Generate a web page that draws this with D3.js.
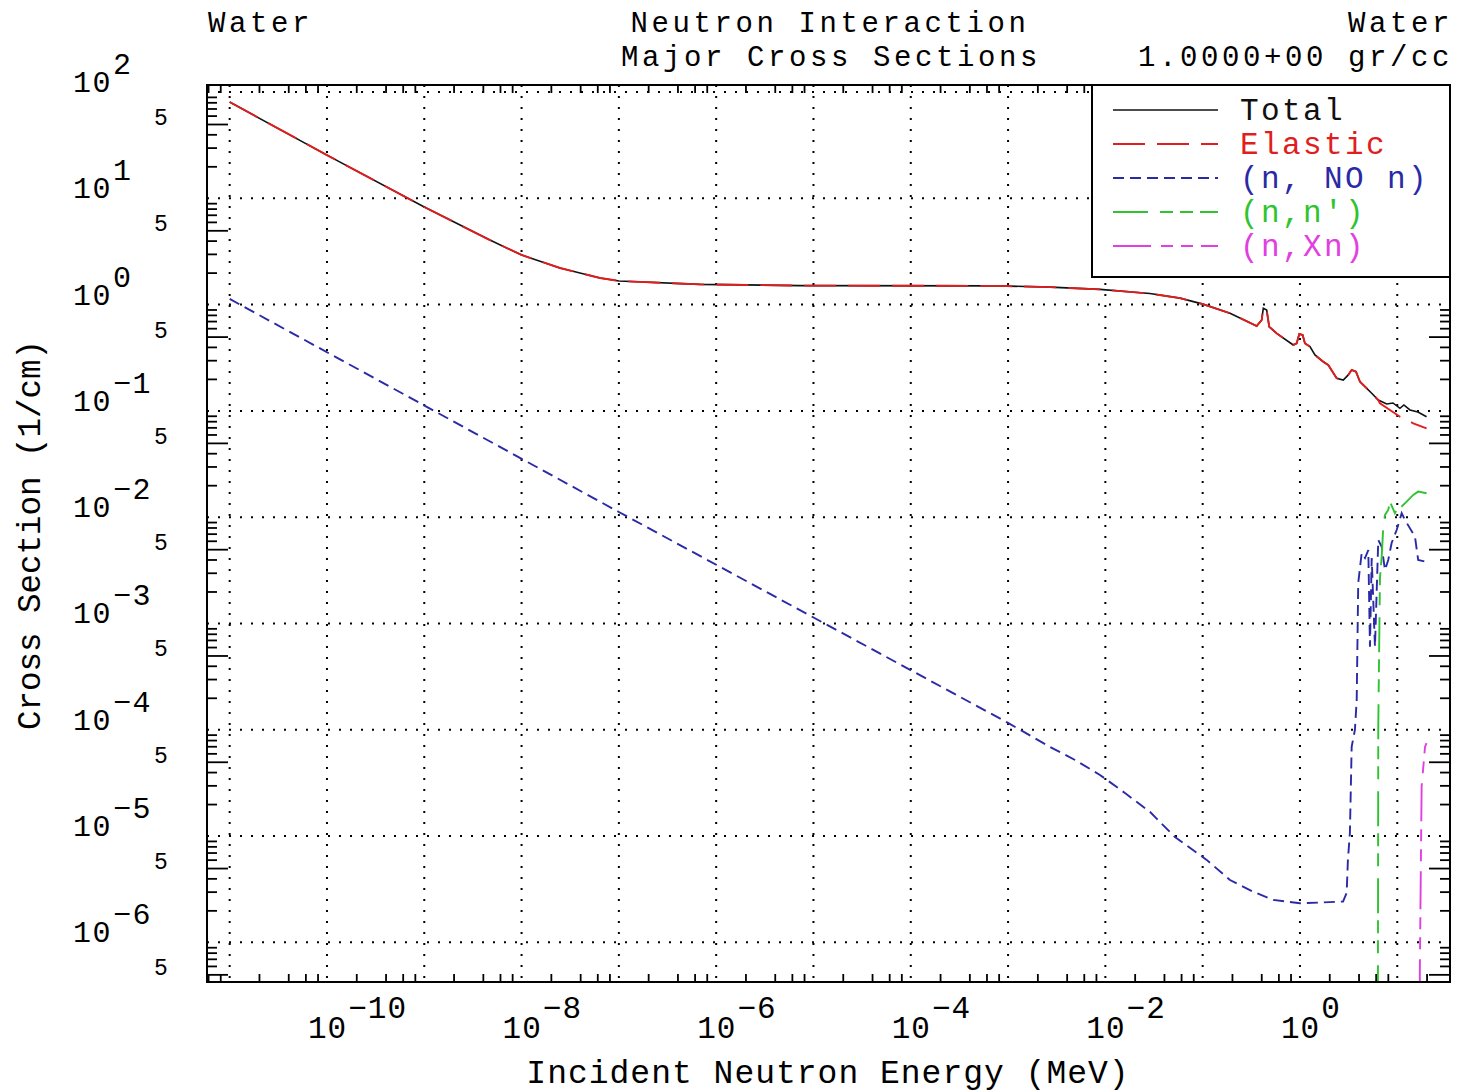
<!DOCTYPE html>
<html>
<head>
<meta charset="utf-8">
<script src="https://cdn.jsdelivr.net/npm/d3@7"></script>
<style>
body { margin: 0; background: #fff; }
text { font-family: "Liberation Mono", "DejaVu Sans Mono", monospace; fill: #000; }
</style>
</head>
<body>
<div id="chart"></div>
<script>
// values, energy in MeV, cross section in 1/cm
// total and elastic are the same curve up to the (n,n') threshold
const sharedE = [1e-11, 1e-10, 1e-9, 4.73e-9, 1e-8, 2.48e-8, 6.4e-8, 1e-7, 6.8e-7, 7.3e-6, 8.26e-4, 2.7e-3, 8.8e-3,
    0.0287, 0.0585, 0.1007, 0.191, 0.359, 0.404, 0.420, 0.455, 0.483, 0.576, 0.853, 0.925, 0.984, 1.066, 1.125,
    1.267, 1.426, 1.735, 1.954, 2.384, 2.786, 3.136, 3.40, 3.765, 4.14, 4.66, 5.46, 6.38];
const sharedXS = [80.5, 25.5, 8.28, 4.05, 2.93, 2.21, 1.78, 1.67, 1.55, 1.51, 1.50, 1.46, 1.39,
    1.27, 1.15, 1.01, 0.828, 0.629, 0.716, 0.923, 0.889, 0.619, 0.537, 0.417, 0.432, 0.529, 0.518, 0.432,
    0.402, 0.336, 0.290, 0.270, 0.203, 0.195, 0.218, 0.243, 0.234, 0.188, 0.169, 0.1465, 0.1267];

const totalTailE = [7.78, 9.03, 10.66, 11.7, 13.5, 16.3, 20.0];
const totalTailXS = [0.116, 0.1187, 0.1057, 0.1137, 0.102, 0.0977, 0.0882];

const elasticTailE = [6.64, 8.41, 10.66, 14.6, 20.0];
const elasticTailXS = [0.118, 0.102, 0.0882, 0.0764, 0.0686];

const captureE = [1e-11, 1e-7, 1e-3, 2.7e-3, 4.87e-3, 8.8e-3, 0.0159, 0.0287, 0.0519, 0.110, 0.191, 0.329, 0.532, 1.0, 2.77, 3.02, 3.11,
    3.26, 3.40, 3.67, 3.83, 3.97, 4.31, 4.66, 5.04, 5.24, 5.46, 5.90, 6.38, 6.92, 7.48, 8.08, 8.75, 9.86, 11.1,
    12.0, 15.2, 16.4, 20.0];
const captureXS = [1.13, 0.01119, 1.16e-4, 6.9e-5, 5.2e-5, 3.76e-5, 2.54e-5, 1.69e-5, 9.8e-6, 5.97e-6, 3.86e-6, 3.0e-6, 2.51e-6, 2.33e-6, 2.42e-6, 2.92e-6, 5.97e-6,
    1.07e-5, 6.93e-5, 9.95e-5, 1.91e-4, 2.40e-3, 4.61e-3, 4.13e-3, 4.91e-3, 6.05e-4, 4.13e-3, 6.05e-4, 6.1e-3, 5.27e-3, 3.18e-3, 3.96e-3, 5.72e-3, 7.58e-3, 0.0109,
    9.41e-3, 6.56e-3, 3.96e-3, 3.8e-3];

const inelE = [6.27, 6.38, 6.64, 6.92, 7.18, 7.48, 8.08, 8.41, 9.47, 9.86, 11.1, 12.5, 14.6, 16.4, 20.0];
const inelXS = [1e-9, 1.06e-4, 2.68e-3, 4.25e-3, 8.14e-3, 0.0105, 0.0117, 0.0140, 0.0109, 0.0117, 0.0126, 0.0140, 0.0162, 0.0174, 0.0168];

const nxnE = [16.3, 17.1, 17.8, 19.3, 20.0];
const nxnXS = [1e-9, 6.84e-7, 2.92e-5, 6.93e-5, 7.5e-5];

const legendLabels = ['Total', 'Elastic', '(n, NO n)', "(n,n')", '(n,Xn)'];
const xLabelExps = [-10, -8, -6, -4, -2, 0];
const yLabelExps = [2, 1, 0, -1, -2, -3, -4, -5, -6];

const series = [
    {E: sharedE.concat(totalTailE), XS: sharedXS.concat(totalTailXS), color: '#111111', dash: null, width: 1.6},
    {E: sharedE.concat(elasticTailE), XS: sharedXS.concat(elasticTailXS), color: '#e01e1e', dash: '32,12', width: 1.9},
    {E: captureE, XS: captureXS, color: '#2a2aa6', dash: '11,6', width: 1.9},
    {E: inelE, XS: inelXS, color: '#2fc42f', dash: '35,12,13,7,13,7', width: 1.9},
    {E: nxnE, XS: nxnXS, color: '#e040e0', dash: '38,10,12,8,12,8', width: 1.9}
];

const width = 1467, height = 1092;
const plotLeft = 207, plotRight = 1450, plotTop = 85, plotBottom = 982;

const svg = d3.select('#chart').append('svg')
    .attr('width', width).attr('height', height);

const x = d3.scaleLog().domain([Math.pow(10, -11.233), Math.pow(10, 1.542)]).range([plotLeft, plotRight]);
const y = d3.scaleLog().domain([Math.pow(10, -6.373), Math.pow(10, 2.066)]).range([plotBottom, plotTop]);

// tick values
let xDecades = d3.range(-11, 2).map(k => Math.pow(10, k));
let yDecades = d3.range(-6, 3).map(k => Math.pow(10, k));
let xMinor = [], yMinor = [], yFive = [];
for (let k = -12; k <= 1; k++) {
    [2, 4, 6, 8].forEach(m => {
        let v = m * Math.pow(10, k);
        if (v > x.domain()[0] && v < x.domain()[1]) xMinor.push(v);
    });
}
for (let k = -7; k <= 2; k++) {
    [2, 3, 4, 5, 6, 7, 8, 9].forEach(m => {
        let v = m * Math.pow(10, k);
        if (v > y.domain()[0] && v < y.domain()[1]) {
            if (m === 5) yFive.push(v); else yMinor.push(v);
        }
    });
}

// dotted grid
svg.append('g').selectAll('line').data(xDecades).enter().append('line')
    .attr('x1', d => x(d)).attr('x2', d => x(d))
    .attr('y1', plotTop).attr('y2', plotBottom)
    .attr('stroke', '#000').attr('stroke-width', 2).attr('stroke-dasharray', '2,9');
svg.append('g').selectAll('line').data(yDecades).enter().append('line')
    .attr('x1', plotLeft).attr('x2', plotRight)
    .attr('y1', d => y(d)).attr('y2', d => y(d))
    .attr('stroke', '#000').attr('stroke-width', 2).attr('stroke-dasharray', '2,9');

// ticks on all four sides, pointing in
function tickAxis(axis, tr) {
    let g = svg.append('g').attr('transform', tr).call(axis);
    g.select('.domain').remove();
    g.selectAll('line').attr('stroke', '#000').attr('stroke-width', 1.8);
    return g;
}
tickAxis(d3.axisBottom(x).tickValues(xMinor).tickSize(-8).tickFormat(''), `translate(0,${plotBottom})`);
tickAxis(d3.axisTop(x).tickValues(xMinor).tickSize(-8).tickFormat(''), `translate(0,${plotTop})`);
tickAxis(d3.axisLeft(y).tickValues(yMinor).tickSize(-10).tickFormat(''), `translate(${plotLeft},0)`);
tickAxis(d3.axisLeft(y).tickValues(yFive).tickSize(-21).tickFormat(''), `translate(${plotLeft},0)`);
tickAxis(d3.axisRight(y).tickValues(yMinor).tickSize(-10).tickFormat(''), `translate(${plotRight},0)`);
tickAxis(d3.axisRight(y).tickValues(yFive).tickSize(-21).tickFormat(''), `translate(${plotRight},0)`);

// curves
svg.append('clipPath').attr('id', 'plotClip').append('rect')
    .attr('x', plotLeft).attr('y', plotTop).attr('width', plotRight - plotLeft).attr('height', plotBottom - plotTop);

const line = d3.line().x(d => x(d[0])).y(d => y(d[1]));
let curves = svg.append('g').attr('clip-path', 'url(#plotClip)');
series.forEach(s => {
    curves.append('path')
        .datum(s.E.map((e, i) => [e, s.XS[i]]))
        .attr('d', line)
        .attr('fill', 'none')
        .attr('stroke', s.color)
        .attr('stroke-width', s.width)
        .attr('stroke-dasharray', s.dash);
});

// frame
svg.append('rect').attr('x', plotLeft).attr('y', plotTop).attr('width', plotRight - plotLeft).attr('height', plotBottom - plotTop)
    .attr('fill', 'none').attr('stroke', '#000').attr('stroke-width', 2);

// y labels
yLabelExps.forEach(k => {
    let t = svg.append('text').attr('x', 73).attr('y', y(Math.pow(10, k))).attr('font-size', 30)
        .attr('letter-spacing', 1.5);
    t.append('tspan').text('10');
    t.append('tspan').attr('dx', 1).attr('dy', -18).text(String(k).replace('-', '\u2212'));
});
yFive.forEach(v => {
    svg.append('text').attr('x', 154).attr('y', y(v) + 1).attr('font-size', 23).text('5');
});

// x labels
xLabelExps.forEach(k => {
    let t = svg.append('text').attr('x', x(Math.pow(10, k)) - 19).attr('y', 1038).attr('font-size', 31)
        .attr('letter-spacing', 1);
    t.append('tspan').text('10');
    t.append('tspan').attr('dx', 1).attr('dy', -20).text(String(k).replace('-', '\u2212'));
});

// titles
svg.append('text').attr('x', 828).attr('y', 1083).attr('text-anchor', 'middle').attr('font-size', 33)
    .attr('letter-spacing', 1).text('Incident Neutron Energy (MeV)');
svg.append('text').attr('transform', 'translate(40,535) rotate(-90)').attr('text-anchor', 'middle')
    .attr('font-size', 32.5).text('Cross Section (1/cm)');

function header(tx, ty, anchor, str) {
    svg.append('text').attr('x', tx).attr('y', ty).attr('text-anchor', anchor)
        .attr('font-size', 29).attr('letter-spacing', 3.6).text(str);
}
header(208, 32, 'start', 'Water');
header(830, 32, 'middle', 'Neutron Interaction');
header(831, 66, 'middle', 'Major Cross Sections');
header(1453, 32, 'end', 'Water');
header(1453, 66, 'end', '1.0000+00 gr/cc');

// legend
let legend = svg.append('g');
legend.append('rect').attr('x', 1092).attr('y', 85).attr('width', 358).attr('height', 192)
    .attr('fill', '#fff').attr('stroke', '#000').attr('stroke-width', 2);
legendLabels.forEach((lab, i) => {
    let s = series[i];
    let ly = 110 + i * 34;
    legend.append('line').attr('x1', 1113).attr('x2', 1218).attr('y1', ly).attr('y2', ly)
        .attr('stroke', s.color).attr('stroke-width', s.width).attr('stroke-dasharray', s.dash);
    legend.append('text').attr('x', 1240).attr('y', ly + 10).attr('font-size', 31)
        .attr('letter-spacing', 2.4).style('fill', s.color).text(lab);
});
</script>
</body>
</html>
